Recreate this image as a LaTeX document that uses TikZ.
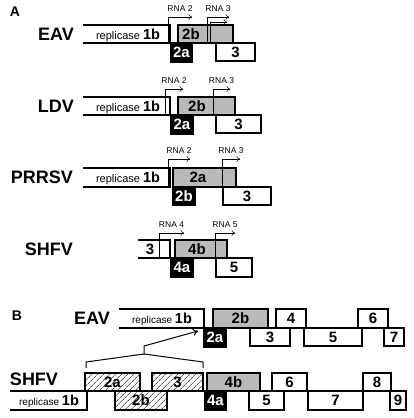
\documentclass[tikz,border=0pt]{standalone}
\usepackage{fontspec}
\setmainfont{Liberation Sans}
\usetikzlibrary{arrows.meta,patterns.meta}
% box from (x1,y1) to (x2,y2): style, x1, y1, x2, y2, name, text
\newcommand\gbox[7]{\node[#1,minimum width={#4-#2},minimum height={#5-#3}] (#6) at ({(#2+#4)/2},{(#3+#5)/2}) {#7};}
\newcommand\oneb{\textbf{\fontsize{14.5}{14.5}\selectfont 1b}}
\begin{document}
\begin{tikzpicture}[x=1pt,y=-1pt,line join=miter,
    orf/.style={draw,line width=1.6pt,inner sep=0pt,font=\bfseries\fontsize{15}{15}\selectfont},
    grey/.style={orf,fill=black!27},
    dark/.style={orf,fill=black,text=white},
    hatch/.style={orf,pattern={Lines[angle=45,distance=4pt,line width=0.5pt]}},
    tag/.style={orf,draw=none},
    gene/.style={line width=1.6pt},
    virus/.style={anchor=east,inner sep=0pt,font=\bfseries\fontsize{18}{18}\selectfont},
    rep/.style={anchor=base,inner sep=0pt,font=\fontsize{11}{11}\selectfont},
    prom/.style={line width=0.5pt,-{To[length=3.5pt,width=6pt]}},
    rna/.style={pos=0.75,above=5pt,inner sep=0pt,font=\fontsize{8.5}{8.5}\selectfont}]
\useasboundingbox (0,0) rectangle (414,418);
% panel A
\node[inner sep=0pt,font=\bfseries\fontsize{14}{14}\selectfont] (pA) at (15,12) {A};
% EAV
\node[virus] (eav) at (74,34) {EAV};
\draw[gene] (83,25) -| (170,43) -- (83,43);
\node[rep] (eavRep) at (128,39) {replicase \oneb};
\gbox{dark}{171}{43}{192}{62}{eavTwoA}{2a}
\gbox{orf}{216}{43}{255}{61}{eavThree}{3}
\gbox{grey}{178}{25}{233}{43}{eavTwoB}{}
\node[tag] (eavTwoBlbl) at (191,34) {2b};
% LDV
\node[virus] (ldv) at (74,106) {LDV};
\draw[gene] (83,97) -| (170,115) -- (83,115);
\node[rep] (ldvRep) at (128,111) {replicase \oneb};
\gbox{dark}{171}{115}{193}{134}{ldvTwoA}{2a}
\gbox{orf}{216}{115}{261}{133}{ldvThree}{3}
\gbox{grey}{178}{97}{235}{115}{ldvTwoB}{}
\node[tag] (ldvTwoBlbl) at (197,106) {2b};
% PRRSV
\node[virus] (prrsv) at (73,177) {PRRSV};
\draw[gene] (83,168) -| (170,187) -- (83,187);
\node[rep] (prrsvRep) at (128,182.5) {replicase \oneb};
\gbox{dark}{173}{187}{195}{205}{prrsvTwoB}{2b}
\gbox{orf}{223}{187}{271}{205}{prrsvThree}{3}
\gbox{grey}{173}{168}{236}{187}{prrsvTwoA}{}
\node[tag] (prrsvTwoAlbl) at (198,177.5) {2a};
% SHFV
\node[virus] (shfv) at (73,249) {SHFV};
\draw[gene] (138,240) -| (170,258) -- (138,258);
\node[tag] (shfvThree) at (150,249) {3};
\gbox{dark}{171}{258}{193}{277}{shfvFourA}{4a}
\gbox{orf}{216}{258}{252}{277}{shfvFive}{5}
\gbox{grey}{175}{240}{227}{258}{shfvFourB}{}
\node[tag] (shfvFourBlbl) at (197,249) {4b};
% promoters of the subgenomic RNAs
\foreach \x/\yb/\yt/\t/\r in {168/43/17/192/2, 207/43/17/229/3, 165/115/89/183/2, 213/115/89/230/3,
    168/187/159/190/2, 222/187/159/240/3, 159/258/233/184/4, 215/258/233/235/5}
  \draw[prom] (\x,\yb) |- (\t,\yt) node[rna] (rna\x\yb) {RNA \r};
\draw[prom] (210,43) |- (227,22);
% panel B
\node[inner sep=0pt,font=\bfseries\fontsize{14}{14}\selectfont] (pB) at (17,316) {B};
% EAV
\node[virus,anchor=center] (eavB) at (92,318) {EAV};
\draw[gene] (119,309) -| (204,328) -- (119,328);
\node[rep,font=\fontsize{10}{10}\selectfont] (eavBRep) at (162,323.5) {replicase \oneb};
\gbox{dark}{204}{328}{226}{347}{eavBTwoA}{2a}
\gbox{grey}{213}{309}{268}{328}{eavBTwoB}{2b}
\gbox{orf}{250}{328}{290}{346}{eavBThree}{3}
\gbox{orf}{276}{309}{306}{328}{eavBFour}{4}
\gbox{orf}{304}{328}{362}{346}{eavBFive}{5}
\gbox{orf}{358}{309}{388}{328}{eavBSix}{6}
\gbox{orf}{384}{328}{404}{346}{eavBSeven}{7}
% SHFV
\node[virus,anchor=center] (shfvB) at (34,379) {SHFV};
\draw[gene] (10,391) -| (87,410) -- (10,410);
\node[rep,font=\fontsize{10}{10}\selectfont] (shfvBRep) at (49,405.5) {replicase \oneb};
\gbox{hatch}{85}{373}{140}{391}{shfvBTwoA}{2a}
\gbox{hatch}{115}{391}{167}{410}{shfvBTwoB}{2b}
\gbox{hatch}{152}{373}{203}{391}{shfvBThree}{3}
\gbox{dark}{205}{391}{226}{410}{shfvBFourA}{4a}
\gbox{grey}{207}{373}{260}{391}{shfvBFourB}{4b}
\gbox{orf}{249}{391}{284}{410}{shfvBFive}{5}
\gbox{orf}{272}{373}{307}{391}{shfvBSix}{6}
\gbox{orf}{308}{391}{363}{410}{shfvBSeven}{7}
\gbox{orf}{363}{373}{391}{391}{shfvBEight}{8}
\gbox{orf}{390}{391}{406}{410}{shfvBNine}{9}
% insertion
\coordinate (brL) at (86,368);
\coordinate (brR) at (203,368);
\coordinate (apex) at (144,354);
\coordinate (ins) at (198,331);
\draw[line width=1pt] (brL) -- ++(0,-6) -- (apex) -- (brR |- 0,362) -- (brR);
\draw[line width=1pt,-{To[length=5pt,width=7pt]}] (apex) -- ++(0,-8) -- (ins);
\end{tikzpicture}
\end{document}
